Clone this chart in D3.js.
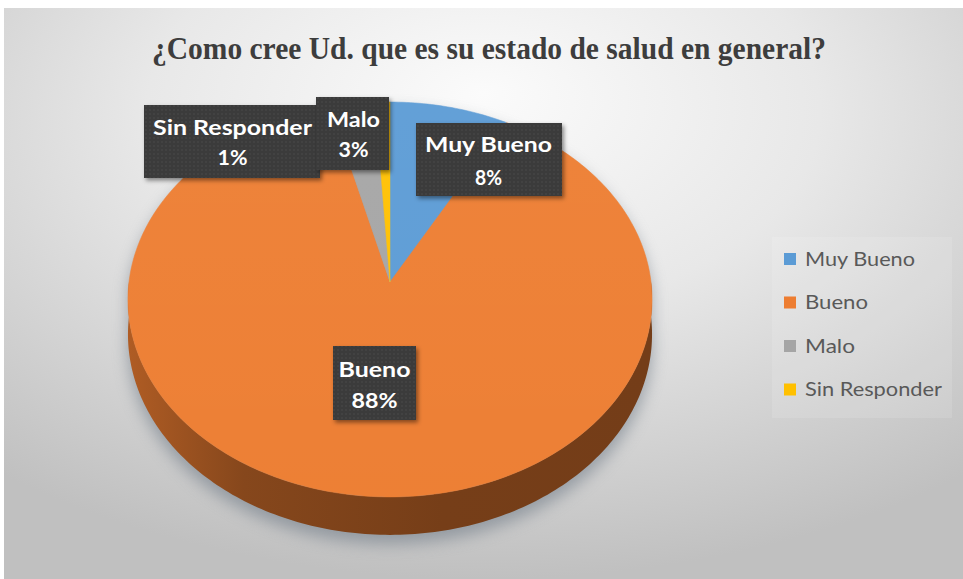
<!DOCTYPE html>
<html>
<head>
<meta charset="utf-8">
<script src="https://cdn.jsdelivr.net/npm/d3@7"></script>
<style>
  html, body { margin: 0; padding: 0; background: #ffffff; }
  svg { display: block; }
</style>
</head>
<body>
<svg id="chart" width="963" height="579"></svg>
<script>
// ---------------- data ----------------
const titleText = "¿Como cree Ud. que es su estado de salud en general?";
const categories = ["Muy Bueno", "Bueno", "Malo", "Sin Responder"];
const values = [8, 88, 3, 1];
const colors = ["#5B9BD5", "#ED7D31", "#A5A5A5", "#FFC000"];

// ---------------- layout (styles / positions) ----------------
const W = 963, H = 579;
const geo = { cx: 390, cy: 282, R: 261, S: 195.9, K: -0.0886, D: 34.6 };
// label boxes (Excel-placed data labels)
const labelBoxes = {
  "Sin Responder": { x: 144, y: 105, w: 176, h: 73, tx: 232.5, b1: 135, b2: 165, l1: 159, l2: 30 },
  "Malo":          { x: 316, y: 97,  w: 73,  h: 73, tx: 353.5, b1: 127, b2: 157, l1: 53,  l2: 30 },
  "Muy Bueno":     { x: 416, y: 123, w: 146, h: 73, tx: 488.5, b1: 152, b2: 185, l1: 127, l2: 27 },
  "Bueno":         { x: 333, y: 346, w: 83,  h: 74, tx: 374.5, b1: 377, b2: 408, l1: 72,  l2: 46 }
};
const labelOrder = ["Bueno", "Muy Bueno", "Sin Responder", "Malo"];

const svg = d3.select("#chart");
const defs = svg.append("defs");

// background gradient
const bg = defs.append("radialGradient").attr("id", "bgGrad")
  .attr("cx", "50%").attr("cy", "22%").attr("r", "78%")
  .attr("fx", "50%").attr("fy", "15%");
bg.append("stop").attr("offset", "0%").attr("stop-color", "#fbfbfb");
bg.append("stop").attr("offset", "45%").attr("stop-color", "#e8e8e8");
bg.append("stop").attr("offset", "100%").attr("stop-color", "#c0c0c0");

// shadow blur
defs.append("filter").attr("id", "pieShadow").attr("x", "-20%").attr("y", "-20%").attr("width", "140%").attr("height", "140%")
  .append("feGaussianBlur").attr("stdDeviation", 8);

const boxShadow = defs.append("filter").attr("id", "boxShadow")
  .attr("x", "-20%").attr("y", "-20%").attr("width", "150%").attr("height", "150%");
boxShadow.append("feDropShadow").attr("dx", 2).attr("dy", 2.5).attr("stdDeviation", 2)
  .attr("flood-color", "#000").attr("flood-opacity", 0.45);

// dotted pattern for label boxes
const pat = defs.append("pattern").attr("id", "dots").attr("patternUnits", "userSpaceOnUse")
  .attr("width", 4).attr("height", 4);
pat.append("rect").attr("width", 4).attr("height", 4).attr("fill", "#3a3a3a");
pat.append("circle").attr("cx", 2).attr("cy", 2).attr("r", 0.7).attr("fill", "#4f4f4f");

// chart area background
svg.append("rect").attr("x", 0).attr("y", 0).attr("width", W).attr("height", H).attr("fill", "#ffffff");
svg.append("rect").attr("x", 4).attr("y", 8).attr("width", W - 4).attr("height", H - 8)
  .attr("fill", "url(#bgGrad)");

// title
svg.append("text")
  .attr("x", 489).attr("y", 59)
  .attr("text-anchor", "middle")
  .attr("font-family", "'Liberation Serif', 'DejaVu Serif', serif")
  .attr("font-weight", "bold")
  .attr("font-size", 32)
  .attr("fill", "#3d3d3d")
  .attr("textLength", 674)
  .attr("lengthAdjust", "spacingAndGlyphs")
  .text(titleText);

// ---------------- pie geometry ----------------
function proj(a, depth) {
  const u = Math.sin(a), v = -Math.cos(a);
  const w = 1 + geo.K * v;
  return [geo.cx + geo.R * u / w, geo.cy + (geo.S * v + (depth || 0)) / w];
}
function arcPts(a0, a1, depth) {
  const n = Math.max(2, Math.ceil(Math.abs(a1 - a0) / (Math.PI / 180)));
  return d3.range(n + 1).map(i => proj(a0 + (a1 - a0) * i / n, depth));
}
const line = d3.line();

const data = categories.map((c, i) => ({ cat: c, value: values[i], color: colors[i] }));
const pie = d3.pie().sort(null).value(d => d.value).startAngle(0).endAngle(2 * Math.PI);
const arcs = pie(data);
const total = d3.sum(values);
const pct = d3.format(".0%");

// shadow under pie
svg.append("path")
  .attr("d", line(arcPts(Math.PI * 0.5, Math.PI * 1.5, geo.D).concat(arcPts(Math.PI * 1.5, Math.PI * 2.5, 0))) + "Z")
  .attr("transform", "translate(0,9)")
  .attr("fill", "#6f7a86").attr("opacity", 0.6)
  .attr("filter", "url(#pieShadow)");

// side walls (front half only)
const gSide = svg.append("g");
arcs.forEach((d, i) => {
  const lo = Math.max(d.startAngle, Math.PI / 2), hi = Math.min(d.endAngle, Math.PI * 1.5);
  if (hi <= lo) return;
  const gid = "side" + i;
  const base = d3.color(d.data.color);
  const g = defs.append("linearGradient").attr("id", gid).attr("gradientUnits", "userSpaceOnUse")
    .attr("x1", geo.cx - geo.R).attr("x2", geo.cx + geo.R).attr("y1", 0).attr("y2", 0);
  g.append("stop").attr("offset", "0%").attr("stop-color", base.darker(0.85));
  g.append("stop").attr("offset", "22%").attr("stop-color", base.darker(1.6));
  g.append("stop").attr("offset", "60%").attr("stop-color", base.darker(1.95));
  g.append("stop").attr("offset", "100%").attr("stop-color", base.darker(2.0));
  const pts = arcPts(lo, hi, 0).concat(arcPts(hi, lo, geo.D));
  gSide.append("path").attr("d", line(pts) + "Z").attr("fill", "url(#" + gid + ")");
});

// top faces
const topG = svg.append("g");
const topGrad = defs.append("linearGradient").attr("id", "topSheen").attr("x1", 0).attr("y1", 0).attr("x2", 0).attr("y2", 1);
topGrad.append("stop").attr("offset", "0%").attr("stop-color", "#fff").attr("stop-opacity", 0.05);
topGrad.append("stop").attr("offset", "100%").attr("stop-color", "#fff").attr("stop-opacity", 0.02);
arcs.forEach(d => {
  const pts = [[geo.cx, geo.cy]].concat(arcPts(d.startAngle, d.endAngle, 0));
  topG.append("path").attr("d", line(pts) + "Z")
    .attr("fill", d.data.color)
    .attr("stroke", d.data.color).attr("stroke-width", 0.5);
});
topG.append("path").attr("d", line(arcPts(0, 2 * Math.PI, 0)) + "Z").attr("fill", "url(#topSheen)");

// ---------------- data labels ----------------
const labG = svg.append("g");
labelOrder.forEach(cat => {
  const d = arcs.find(a => a.data.cat === cat);
  const b = labelBoxes[cat];
  const g = labG.append("g");
  g.append("rect").attr("x", b.x).attr("y", b.y).attr("width", b.w).attr("height", b.h)
    .attr("fill", "url(#dots)").attr("filter", "url(#boxShadow)");
  const t = [cat, pct(d.data.value / total)];
  [[t[0], b.b1, b.l1], [t[1], b.b2, b.l2]].forEach(([txt, y, len]) => {
    g.append("text").attr("x", b.tx).attr("y", y)
      .attr("text-anchor", "middle")
      .attr("font-family", "Lato, 'Open Sans', sans-serif")
      .attr("font-weight", "bold").attr("font-size", 21)
      .attr("fill", "#ffffff")
      .attr("textLength", len).attr("lengthAdjust", "spacingAndGlyphs")
      .text(txt);
  });
});

// ---------------- legend ----------------
const legend = svg.append("g");
legend.append("rect").attr("x", 772).attr("y", 237).attr("width", 180).attr("height", 181)
  .attr("fill", "#ffffff").attr("opacity", 0.12);
const legendY = d3.scalePoint().domain(categories).range([259, 389.5]);
const legendLen = { "Muy Bueno": 110, "Bueno": 63, "Malo": 50, "Sin Responder": 137 };
categories.forEach((c, i) => {
  const y = legendY(c);
  legend.append("rect").attr("x", 784).attr("y", y - 6).attr("width", 12).attr("height", 12)
    .attr("fill", colors[i]);
  legend.append("text").attr("x", 805).attr("y", y + 6.5)
    .attr("font-family", "Lato, 'Open Sans', sans-serif")
    .attr("font-size", 20)
    .attr("fill", "#595959")
    .attr("textLength", legendLen[c]).attr("lengthAdjust", "spacingAndGlyphs")
    .text(c);
});
</script>
</body>
</html>
